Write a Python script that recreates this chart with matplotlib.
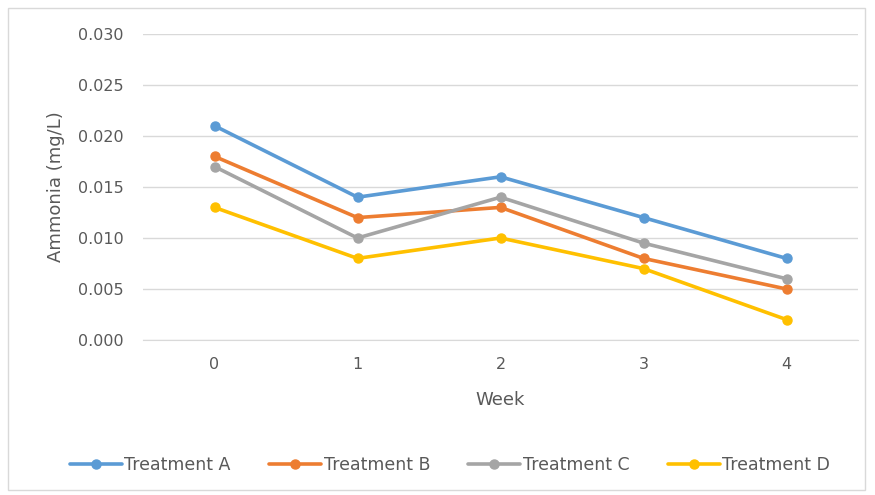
import matplotlib
matplotlib.use("Agg")
import matplotlib.pyplot as plt
from matplotlib.patches import Rectangle

weeks = ["0", "1", "2", "3", "4"]
treatment_a = [0.021, 0.014, 0.016, 0.012, 0.008]
treatment_b = [0.018, 0.012, 0.013, 0.008, 0.005]
treatment_c = [0.017, 0.010, 0.014, 0.0095, 0.006]
treatment_d = [0.013, 0.008, 0.010, 0.007, 0.002]
series_names = ["Treatment A", "Treatment B", "Treatment C", "Treatment D"]
colors = ["#5B9BD5", "#ED7D31", "#A5A5A5", "#FFC000"]
yticks = [0.000, 0.005, 0.010, 0.015, 0.020, 0.025, 0.030]

plt.rcParams["font.family"] = ["DejaVu Sans"]
text_color = "#595959"

fig = plt.figure(figsize=(8.75, 4.95), dpi=100)
fig.patches.append(Rectangle((8 / 875, 5 / 495), 857 / 875, 482 / 495,
                             transform=fig.transFigure, fill=False,
                             edgecolor="#D9D9D9", linewidth=1.0))

ax = fig.add_axes([143 / 875, (495 - 340) / 495, 715 / 875, 306 / 495])
x = list(range(len(weeks)))
for vals, name, col in zip([treatment_a, treatment_b, treatment_c, treatment_d],
                           series_names, colors):
    ax.plot(x, vals, color=col, linewidth=2.6, marker="o", markersize=6.5,
            label=name, solid_capstyle="round")

ax.set_xlim(-0.5, len(weeks) - 0.5)
ax.set_ylim(0, 0.030)
ax.set_yticks(yticks)
ax.set_yticklabels([f"{v:.3f}" for v in yticks])
ax.set_xticks(x)
ax.set_xticklabels(weeks)
ax.grid(axis="y", color="#D9D9D9", linewidth=1.0)
ax.set_axisbelow(True)
for s in ["top", "right", "left"]:
    ax.spines[s].set_visible(False)
ax.spines["bottom"].set_color("#D9D9D9")
ax.tick_params(axis="both", length=0, colors=text_color, labelsize=11.5)
ax.tick_params(axis="y", pad=14)
ax.tick_params(axis="x", pad=12)

ax.set_xlabel("Week", color=text_color, fontsize=13, labelpad=14)
ax.set_ylabel("Ammonia (mg/L)", color=text_color, fontsize=13, labelpad=9)

leg = fig.legend(loc="center", bbox_to_anchor=(450 / 875, 1 - 465 / 495),
                 ncol=4, frameon=False, fontsize=12.5, handlelength=3.0,
                 columnspacing=2.2, handletextpad=0.15)
for t in leg.get_texts():
    t.set_color(text_color)

fig.savefig("out.png", dpi=100)
